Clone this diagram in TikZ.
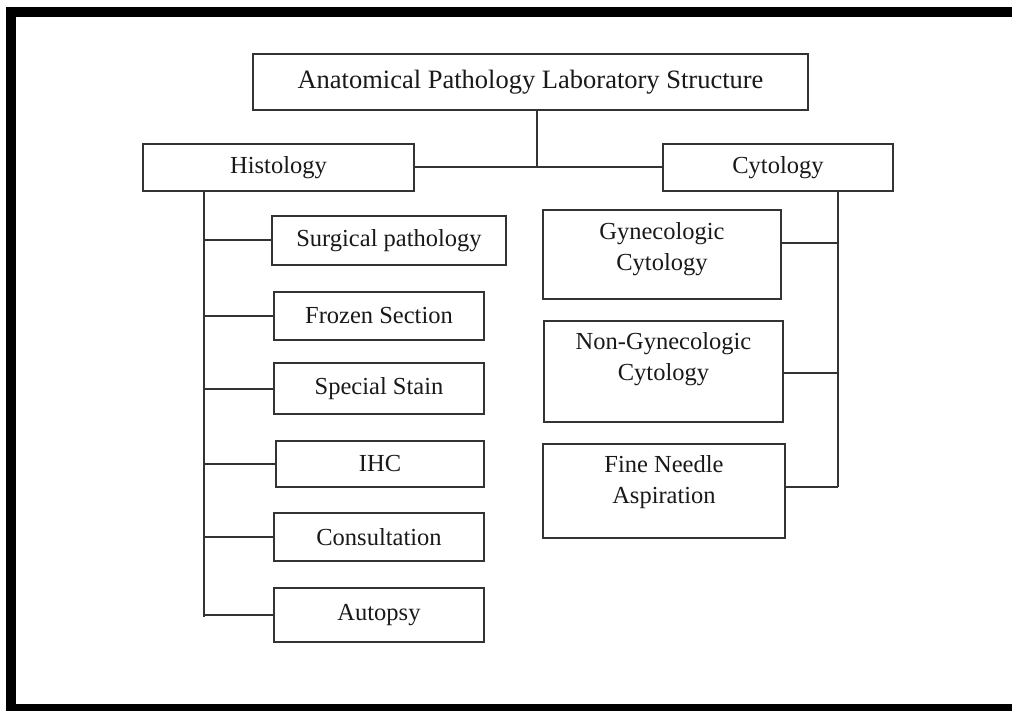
\documentclass[tikz,border=0pt]{standalone}
\usepackage{fontspec}
\setmainfont{Liberation Serif}
\begin{document}
\begin{tikzpicture}[x=1pt,y=-1pt,
  box/.style={draw=black!80, line width=2pt, rectangle, inner sep=0pt, text=black!90, font=\fontsize{24.5}{31}\selectfont, align=center},
  conn/.style={draw=black!80, line width=2pt},
  lbl/.style={text=black!90, font=\fontsize{24.5}{31}\selectfont, align=center}]
\useasboundingbox (0,0) rectangle (1012,711);
\fill[white] (0,0) rectangle (1012,711);
% frame
\fill[black] (6,7) rectangle (1012,17);
\fill[black] (6,7) rectangle (16,711);
\fill[black] (6,704) rectangle (1012,711);

% nodes
\node[box, minimum width=555, minimum height=56, font=\fontsize{26.5}{31}\selectfont] (title) at (530.5,82) {Anatomical Pathology Laboratory Structure};
\node[box, minimum width=271, minimum height=47] (hist) at (278.5,167.5) {Histology};
\node[box, minimum width=230, minimum height=47] (cyto) at (778,167.5) {Cytology};

\node[box, minimum width=234, minimum height=49] (surg) at (389,240.5) {Surgical pathology};
\node[box, minimum width=210, minimum height=48] (froz) at (379,316) {Frozen Section};
\node[box, minimum width=210, minimum height=51] (spec) at (379,388.5) {Special Stain};
\node[box, minimum width=208, minimum height=46] (ihc) at (380,464) {IHC};
\node[box, minimum width=210, minimum height=48] (cons) at (379,537) {Consultation};
\node[box, minimum width=210, minimum height=54] (auto) at (379,615) {\raisebox{2pt}{Autopsy}};

\node[box, minimum width=238, minimum height=89,
  label={[lbl, yshift=5.5pt]center:{Gynecologic\\Cytology}}] (gyn) at (662,254.5) {};
\node[box, minimum width=239, minimum height=101,
  label={[lbl, yshift=12.5pt]center:{Non-Gynecologic\\Cytology}}] (ngyn) at (663.5,371.5) {};
\node[box, minimum width=242, minimum height=94,
  label={[lbl, yshift=9pt]center:{Fine Needle\\Aspiration}}] (fna) at (664,491) {};

% coordinates
\coordinate (j) at (537,167);
\coordinate (hx) at (204,617);
\coordinate (cg) at (838,243);
\coordinate (cn) at (838,373);
\coordinate (cf) at (838,487);

% connectors
\draw[conn] (title.south -| j) -- (j);
\draw[conn] (hist.east |- j) -- (j -| cyto.west);
\draw[conn] (hist.south -| hx) -- (hx);
\foreach \n in {surg,froz,spec,ihc,cons,auto}
  \draw[conn] (hx |- \n.west) -- (\n.west);
\draw[conn] (cyto.south -| cg) -- (cf);
\draw[conn] (cg) -- (cg -| gyn.east);
\draw[conn] (cn) -- (cn -| ngyn.east);
\draw[conn] (cf) -- (cf -| fna.east);
\end{tikzpicture}
\end{document}
